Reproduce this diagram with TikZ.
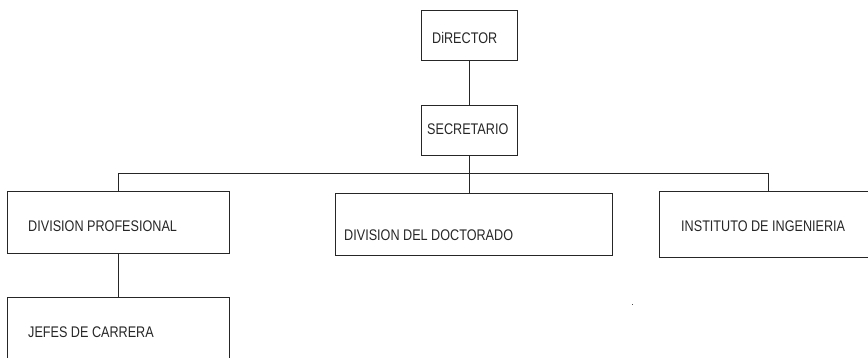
\documentclass[tikz,border=0pt]{standalone}
\usepackage{fontspec}
\setmainfont{Liberation Sans}[FakeStretch=0.82]
\begin{document}
\begin{tikzpicture}[x=1pt,y=-1pt,
  box/.style={draw=black!85,line width=0.8pt,rectangle,inner sep=0pt},
  lbl/.style={anchor=west,inner sep=0pt,font=\fontsize{15.4}{18}\selectfont,text=black!85},
  conn/.style={draw=black!85,line width=0.8pt}]
\useasboundingbox (0,0) rectangle (868,357);
\clip (0,0) rectangle (868,357);
% boxes
\node[box,minimum width=96pt,minimum height=50pt] (dir) at (469,35) {};
\node[box,minimum width=96pt,minimum height=50pt] (sec) at (469,130) {};
\node[box,minimum width=222pt,minimum height=62pt] (prof) at (118,222) {};
\node[box,minimum width=222pt,minimum height=90pt] (jef) at (118,342) {};
\node[box,minimum width=277pt,minimum height=62pt] (doc) at (473.5,224) {};
\node[box,minimum width=218pt,minimum height=66pt] (inst) at (768,224) {};
% texts
\node[lbl] (tdir) at (432,37.5) {DiRECTOR};
\node[lbl] (tsec) at (427,129) {SECRETARIO};
\node[lbl] (tprof) at (28,226) {DIVISION PROFESIONAL};
\node[lbl] (tjef) at (28,332) {JEFES DE CARRERA};
\node[lbl] (tdoc) at (344,235) {DIVISION DEL DOCTORADO};
\node[lbl] (tinst) at (681,226) {INSTITUTO DE INGENIERIA};
% connectors
\coordinate (bus) at (468,173);
\draw[conn] (dir.south) -- (sec.north);
\draw[conn] (sec.south) -- (sec.south |- doc.north);
\draw[conn] (prof.north) -- (prof.north |- bus) -- (inst.north |- bus) -- (inst.north);
\draw[conn] (prof.south) -- (jef.north);
% speck
\fill[black!70] (631.5,303.5) rectangle (633,305);
\end{tikzpicture}
\end{document}
